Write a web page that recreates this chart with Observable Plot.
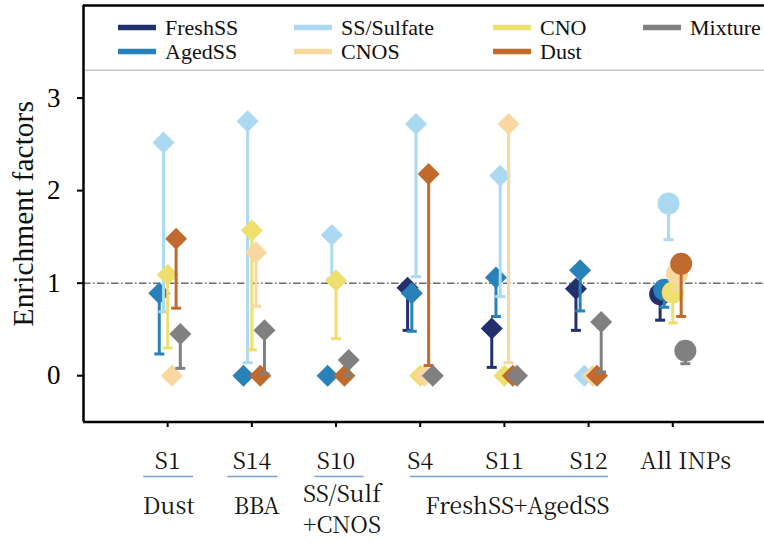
<!DOCTYPE html>
<html>
<head>
<meta charset="utf-8">
<script src="https://cdn.jsdelivr.net/npm/d3@7"></script>
<script src="https://cdn.jsdelivr.net/npm/@observablehq/plot@0.6"></script>
<style>
  html, body { margin: 0; padding: 0; background: #fff; }
</style>
</head>
<body>
<div id="chart"></div>
<script>
// ---------------- DATA ----------------
const groups = ["S1", "S14", "S10", "S4", "S11", "S12", "All INPs"];
const categories = ["FreshSS", "AgedSS", "SS/Sulfate", "CNO", "CNOS", "Dust", "Mixture"]; // drawing / dodge order
const legendOrder = ["FreshSS", "AgedSS", "SS/Sulfate", "CNOS", "CNO", "Dust", "Mixture"];

// enrichment factor (marker) and lower end of error bar, per group
const freshSS        = [NaN,  NaN,  NaN,  0.95, 0.51, 0.94, 0.88];
const freshSSLower   = [NaN,  NaN,  NaN,  0.49, 0.09, 0.49, 0.60];
const agedSS         = [0.89, 0.00, 0.00, 0.89, 1.06, 1.14, 0.93];
const agedSSLower    = [0.235, NaN, NaN,  0.48, 0.64, 0.70, 0.74];
const ssSulfate      = [2.52, 2.75, 1.52, 2.72, 2.16, 0.00, 1.86];
const ssSulfateLower = [0.69, 0.14, 1.05, 1.07, 0.855, NaN, 1.47];
const cno            = [1.09, 1.57, 1.03, 0.00, 0.00, NaN,  0.90];
const cnoLower       = [0.30, 0.28, 0.40, NaN,  NaN,  NaN,  0.57];
const cnos           = [0.00, 1.33, NaN,  0.00, 2.72, 0.00, 1.10];
const cnosLower      = [NaN,  0.75, NaN,  NaN,  0.14, NaN,  0.93];
const dust           = [1.48, 0.00, 0.00, 2.18, 0.00, 0.00, 1.21];
const dustLower      = [0.73, NaN,  NaN,  0.11, NaN,  NaN,  0.64];
const mixture        = [0.45, 0.49, 0.17, 0.00, 0.00, 0.58, 0.27];
const mixtureLower   = [0.08, 0.02, 0.00, NaN,  NaN,  0.04, 0.13];

const yTicks = [0, 1, 2, 3];
const yTickLabels = ["0", "1", "2", "3"];
const referenceLevel = 1;
const yLabel = "Enrichment factors";

// source-type annotation under the sample labels
const sourceLabels = ["Dust", "BBA", "SS/Sulf\n+CNOS", "FreshSS+AgedSS"];
const sourceSpans  = [[0, 0], [1, 1], [2, 2], [3, 5]];

// ---------------- STYLE / LAYOUT ----------------
const palette = {
  "FreshSS": "#23306e",
  "AgedSS": "#2882b9",
  "SS/Sulfate": "#aad9f1",
  "CNOS": "#f9d7a0",
  "CNO": "#efdf6e",
  "Dust": "#c06b2d",
  "Mixture": "#808080"
};
const FONT_CM = "Liberation Serif";
const FONT_X = "Noto Serif CJK SC, DejaVu Serif, serif";
const STEP = 0.05;               // dodge step between categories (x units)
const groupLabelDx = [0, 0, 0, 0, 0, 0, 13];
const sourceLabelDx = [1, 5, 6, 13];
const underlinePad = [[24, 26], [24, 26], [21, 28], [10, 20]];

const seriesValues = {
  "FreshSS": [freshSS, freshSSLower],
  "AgedSS": [agedSS, agedSSLower],
  "SS/Sulfate": [ssSulfate, ssSulfateLower],
  "CNO": [cno, cnoLower],
  "CNOS": [cnos, cnosLower],
  "Dust": [dust, dustLower],
  "Mixture": [mixture, mixtureLower]
};

const table = categories.flatMap((cat, ci) =>
  groups.map((g, gi) => ({cat, ci, gi, group: g, v: seriesValues[cat][0][gi], lo: seriesValues[cat][1][gi]}))
).filter(d => !isNaN(d.v));

const X = d => d.gi + (d.ci - 3) * STEP;

const diamondSymbol = {
  draw(ctx, size) {
    const r = Math.sqrt(size / Math.PI);
    ctx.moveTo(0, -r); ctx.lineTo(r, 0); ctx.lineTo(0, r); ctx.lineTo(-r, 0); ctx.closePath();
  }
};
const capSymbol = {
  draw(ctx, size) {
    const r = Math.sqrt(size / Math.PI);
    ctx.rect(-r, -1.5, 2 * r, 3);
  }
};

const seriesMarks = categories.flatMap((cat, ci) => {
  const data = table.filter(d => d.ci === ci);
  const bars = data.filter(d => !isNaN(d.lo));
  const col = palette[cat];
  return [
    Plot.ruleX(bars, {x: X, y1: "lo", y2: "v", stroke: col, strokeWidth: 3}),
    Plot.dot(bars, {x: X, y: "lo", symbol: capSymbol, r: 5, fill: col, stroke: "none"}),
    Plot.dot(data.filter(d => d.group !== "All INPs"), {x: X, y: "v", symbol: diamondSymbol, r: 11, fill: col, stroke: "none"}),
    Plot.dot(data.filter(d => d.group === "All INPs"), {x: X, y: "v", symbol: "circle", r: 11, fill: col, stroke: "none"})
  ];
});

function underlineMark(index, scales, values, dimensions) {
  const sx = scales.x;
  const yb = dimensions.height - dimensions.marginBottom;
  const g = d3.create("svg:g");
  sourceSpans.forEach(([a, b], i) => {
    g.append("line")
      .attr("x1", sx(a) - underlinePad[i][0])
      .attr("x2", sx(b) + underlinePad[i][1])
      .attr("y1", yb + 55).attr("y2", yb + 55)
      .attr("stroke", "#7aa0da").attr("stroke-width", 1.5);
  });
  return g.node();
}

function legendMark() {
  const g = d3.create("svg:g").attr("text-anchor", "start");
  const colX = [118, 294, 493, 643];
  const rowY = [27.5, 51.5];
  legendOrder.forEach((name, i) => {
    const c = Math.floor(i / 2), r = i % 2;
    g.append("rect")
      .attr("x", colX[c]).attr("y", rowY[r] - 2.75)
      .attr("width", 38).attr("height", 5.5)
      .attr("fill", palette[name]);
    g.append("text")
      .attr("x", colX[c] + 47).attr("y", rowY[r] + 7.5)
      .attr("text-anchor", "start")
      .attr("font-family", FONT_CM).attr("font-size", 22)
      .style("font-family", FONT_CM)
      .attr("fill", "#111")
      .text(name);
  });
  return g.node();
}

const spanCenter = i => (sourceSpans[i][0] + sourceSpans[i][1]) / 2;

const groupLabelMarks = groups.map((g, i) =>
  Plot.text([g], {x: () => i, y: () => -0.5, text: d => d, dy: 46.5, dx: groupLabelDx[i],
    lineAnchor: "bottom", textAnchor: "middle", fontSize: 23, fontFamily: FONT_X, fill: "#111"})
);
const sourceLabelMarks = sourceLabels.map((t, i) => {
  const multi = t.includes("\n");
  return Plot.text([t], {x: () => spanCenter(i), y: () => -0.5, text: d => d,
    dy: multi ? 56.8 : 91.8, dx: sourceLabelDx[i],
    lineAnchor: multi ? "top" : "bottom", lineHeight: multi ? 1.39 : 1,
    textAnchor: "middle", fontSize: 23, fontFamily: FONT_X, fill: "#111"});
});

const chart = Plot.plot({
  width: 764,
  height: 544,
  marginLeft: 83,
  marginRight: 0,
  marginTop: 5,
  marginBottom: 122.5,
  x: {domain: [-1, 7.09]},
  y: {domain: [-0.5, 4]},
  style: {background: "#fff", fontFamily: FONT_CM, color: "#000", overflow: "visible"},
  marks: [
    Plot.ruleY([3.3], {stroke: "#c6c6c6", strokeWidth: 1.5}),
    Plot.ruleY([referenceLevel], {stroke: "#222", strokeWidth: 1, strokeDasharray: "7.5,2.5,1.5,2.5"}),
    ...seriesMarks,
    Plot.ruleX([-1], {stroke: "#000", strokeWidth: 2.5}),
    Plot.ruleY([-0.5], {stroke: "#000", strokeWidth: 2.5}),
    Plot.ruleY([4], {stroke: "#000", strokeWidth: 2.5}),
    Plot.axisY({ticks: yTicks, tickSize: 6, tickPadding: 17, tickFormat: d => yTickLabels[yTicks.indexOf(d)],
      fontSize: 27, fontFamily: FONT_CM, strokeWidth: 2, label: null}),
    Plot.axisX({ticks: groups.map((_, i) => i), tickSize: 5.5, tickFormat: () => "", strokeWidth: 2, label: null}),
    ...groupLabelMarks,
    ...sourceLabelMarks,
    Plot.text([yLabel], {frameAnchor: "left", rotate: -90, dx: -60, textAnchor: "middle", lineAnchor: "middle",
      fontSize: 29.5, fontFamily: FONT_CM, fill: "#111"}),
    underlineMark,
    legendMark
  ]
});

document.getElementById("chart").appendChild(chart);
</script>
</body>
</html>
